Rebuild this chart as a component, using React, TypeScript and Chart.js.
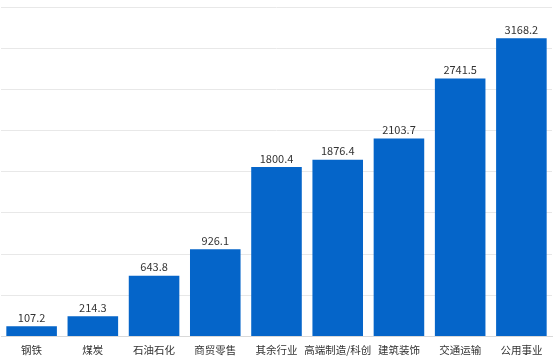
import React, { useEffect, useRef } from "react";
import { Chart, registerables } from "chart.js";

Chart.register(...registerables);

const categories = ["钢铁", "煤炭", "石油石化", "商贸零售", "其余行业", "高端制造/科创", "建筑装饰", "交通运输", "公用事业"];
const values = [107.2, 214.3, 643.8, 926.1, 1800.4, 1876.4, 2103.7, 2741.5, 3168.2];
const yMax = 3500;
const yStep = 437.5;

const FONT = "'Noto Sans CJK SC', 'Noto Sans', sans-serif";

const valueLabels = {
  id: "valueLabels",
  afterDatasetsDraw(chart: any) {
    const ctx = chart.ctx;
    const meta = chart.getDatasetMeta(0);
    ctx.save();
    ctx.font = `11px ${FONT}`;
    ctx.fillStyle = "#333333";
    ctx.textAlign = "center";
    ctx.textBaseline = "bottom";
    meta.data.forEach((bar: any, i: number) => {
      const v = chart.data.datasets[0].data[i];
      ctx.fillText(Number(v).toFixed(1), bar.x, bar.y - 3);
    });
    ctx.restore();
  },
};

export default function App() {
  const ref = useRef<HTMLCanvasElement>(null);
  useEffect(() => {
    if (!ref.current) return;
    const chart = new Chart(ref.current, {
      type: "bar",
      data: {
        labels: categories,
        datasets: [
          {
            data: values,
            backgroundColor: "#0565C9",
            borderWidth: 0,
            barPercentage: 0.826,
            categoryPercentage: 1,
          },
        ],
      },
      options: {
        animation: false,
        responsive: false,
        maintainAspectRatio: false,
        layout: { padding: { top: 7, left: 1, right: 2, bottom: 1 } },
        plugins: { legend: { display: false }, tooltip: { enabled: false } },
        scales: {
          x: {
            grid: { display: true, drawOnChartArea: false, drawTicks: false },
            border: { display: true, color: "#d9d9d9", width: 1 },
            ticks: {
              autoSkip: false,
              maxRotation: 0,
              padding: 7,
              color: "#333333",
              font: { family: FONT, size: 10.5 },
            },
          },
          y: {
            min: 0,
            max: yMax,
            ticks: { display: false, stepSize: yStep },
            grid: { color: "#e8e8e8", lineWidth: 1, drawTicks: false },
            border: { display: false },
          },
        },
      },
      plugins: [valueLabels],
    });
    return () => chart.destroy();
  }, []);
  return (
    <div style={{ position: "absolute", left: 0, top: 0, width: 554, height: 364, background: "#ffffff" }}>
      <canvas ref={ref} width={554} height={364} style={{ width: 554, height: 364 }} />
    </div>
  );
}
